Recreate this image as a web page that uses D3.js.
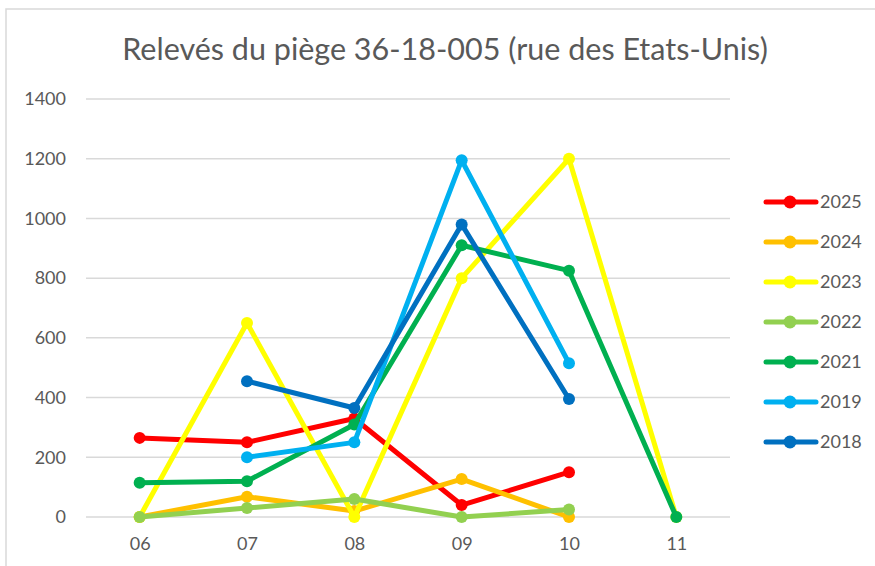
<!DOCTYPE html>
<html>
<head>
<meta charset="utf-8">
<script src="https://cdn.jsdelivr.net/npm/d3@7"></script>
<style>
  html, body { margin: 0; padding: 0; background: #fff; }
  svg { display: block; }
  text { font-family: Lato, "Open Sans", sans-serif; fill: #595959; }
</style>
</head>
<body>
<svg id="chart" width="875" height="566"></svg>
<script>
const categories = ["06", "07", "08", "09", "10", "11"];
const years = ["2025", "2024", "2023", "2022", "2021", "2019", "2018"];
const s2025 = [265, 250, 330, 40, 150, null];
const s2024 = [0, 68, 20, 127, 0, null];
const s2023 = [0, 650, 0, 800, 1200, 0];
const s2022 = [0, 30, 60, 0, 25, null];
const s2021 = [115, 120, 310, 910, 825, 0];
const s2019 = [null, 200, 250, 1195, 515, null];
const s2018 = [null, 455, 365, 980, 395, null];
const yTicks = [0, 200, 400, 600, 800, 1000, 1200, 1400];
const colors = ["#FF0000", "#FFC000", "#FFFF00", "#92D050", "#00B050", "#00B0F0", "#0070C0"];
const title = "Relevés du piège 36-18-005 (rue des Etats-Unis)";

const seriesValues = [s2025, s2024, s2023, s2022, s2021, s2019, s2018];
const series = years.map((y, i) => ({ name: y, values: seriesValues[i], color: colors[i] }));

const svg = d3.select("#chart");

// chart border
svg.append("rect").attr("x", 6).attr("y", 9).attr("width", 1000).attr("height", 1000)
  .attr("fill", "none").attr("stroke", "#d9d9d9").attr("stroke-width", 1.5);

// title
const t = svg.append("text").attr("x", 445).attr("y", 60).attr("text-anchor", "middle")
  .attr("font-size", 28).text(title);
const targetW = 646;
const w = t.node().getComputedTextLength();
t.attr("font-size", 28 * targetW / w);

const plot = { left: 86, right: 730, top: 99, bottom: 517 };
const x = d3.scalePoint().domain(categories).range([plot.left, plot.right]).padding(0.5);
const y = d3.scaleLinear().domain([0, 1400]).range([plot.bottom, plot.top]);

// gridlines
svg.append("g").selectAll("line").data(yTicks).join("line")
  .attr("x1", plot.left).attr("x2", plot.right)
  .attr("y1", d => y(d)).attr("y2", d => y(d))
  .attr("stroke", "#d9d9d9").attr("stroke-width", 1.5);

// y axis labels
const yAxis = svg.append("g").attr("transform", `translate(${plot.left},0)`)
  .call(d3.axisLeft(y).tickValues(yTicks).tickSize(0).tickPadding(20).tickFormat(d3.format("d")));
yAxis.select(".domain").remove();
yAxis.selectAll("text").attr("font-size", 18).attr("fill", "#595959")
  .style("font-family", "Lato, 'Open Sans', sans-serif");

// x axis labels
const xAxis = svg.append("g").attr("transform", `translate(0,${plot.bottom})`)
  .call(d3.axisBottom(x).tickSize(0).tickPadding(20));
xAxis.select(".domain").remove();
xAxis.selectAll("text").attr("font-size", 18).attr("fill", "#595959")
  .style("font-family", "Lato, 'Open Sans', sans-serif");

const line = d3.line()
  .defined(d => d.v !== null)
  .x(d => x(d.c)).y(d => y(d.v));

series.forEach(s => {
  const pts = categories.map((c, i) => ({ c, v: s.values[i] }));
  const g = svg.append("g");
  g.append("path").datum(pts).attr("d", line).attr("fill", "none")
    .attr("stroke", s.color).attr("stroke-width", 5).attr("stroke-linejoin", "round").attr("stroke-linecap", "round");
  g.selectAll("circle").data(pts.filter(d => d.v !== null)).join("circle")
    .attr("cx", d => x(d.c)).attr("cy", d => y(d.v)).attr("r", 6).attr("fill", s.color);
});

// legend
const legend = svg.append("g");
series.forEach((s, i) => {
  const ly = 202 + i * 40;
  legend.append("line").attr("x1", 766).attr("x2", 816).attr("y1", ly).attr("y2", ly)
    .attr("stroke", s.color).attr("stroke-width", 5).attr("stroke-linecap", "round");
  legend.append("circle").attr("cx", 790).attr("cy", ly).attr("r", 6.5).attr("fill", s.color);
  legend.append("text").attr("x", 820).attr("y", ly).attr("dy", "0.35em")
    .attr("font-size", 18).text(s.name);
});
</script>
</body>
</html>
